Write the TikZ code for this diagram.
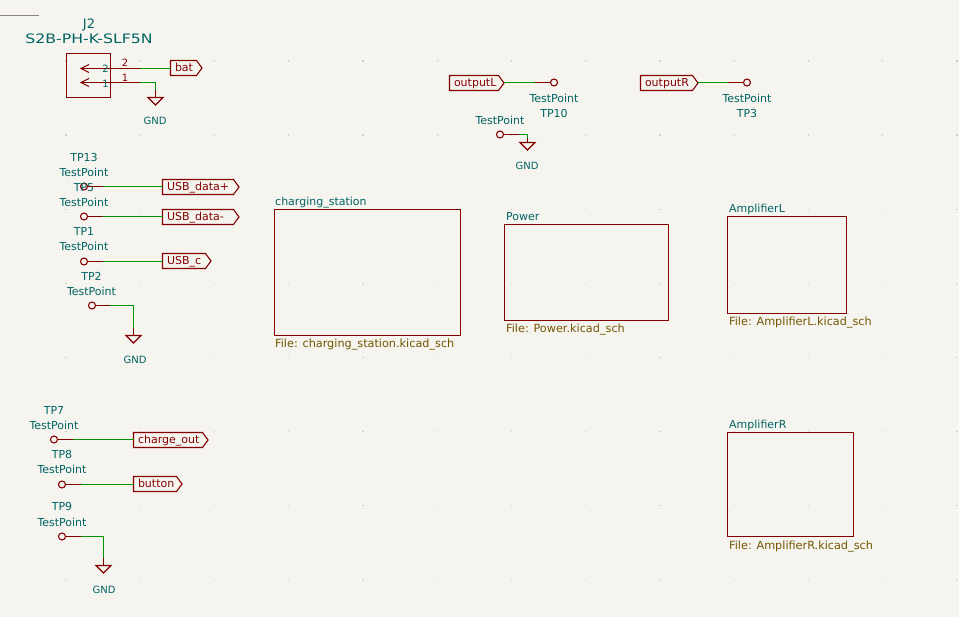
\documentclass[tikz,border=0pt]{standalone}
\usepackage{fontspec}
\usepackage{graphicx}
\setmainfont{DejaVu Sans}
\definecolor{bgc}{HTML}{F5F4EF}
\definecolor{symred}{HTML}{840000}
\definecolor{wirec}{HTML}{009600}
\definecolor{teal}{HTML}{006464}
\definecolor{filec}{HTML}{725600}
\definecolor{gridc}{HTML}{CFCDC7}
\definecolor{topl}{HTML}{8A8580}
\tikzset{
  lbl/.style={inner sep=0pt,text=teal,font=\fontsize{11}{12}\selectfont,text height=10pt,text depth=0pt},
  sheetname/.style={lbl,anchor=west},
  filename/.style={lbl,anchor=west,text=filec,font=\fontsize{11.25}{12}\selectfont},
  redtxt/.style={lbl,text=symred,font=\fontsize{10}{11}\selectfont},
  pintxt/.style={lbl,font=\fontsize{10}{11}\selectfont},
  wire/.style={draw=wirec,line width=1.1pt},
  red/.style={draw=symred,line width=1.1pt},
  tpoint/.style={circle,draw=symred,line width=1.1pt,minimum size=7pt,inner sep=0pt,outer sep=0pt},
  sheet/.style={rectangle,draw=symred,line width=1.1pt,inner sep=0pt,outer sep=0pt,anchor=north west},
  hlab/.style={rectangle,anchor=west,inner xsep=4.5pt,inner ysep=0pt,outer sep=0pt,minimum height=15pt,text=symred,align=left,font=\fontsize{11}{12}\selectfont,text height=8pt,text depth=0pt},
}
% \hlabel{name}{x}{y}{rect width}{text}
\newcommand{\hlabel}[5]{%
  \node[hlab,text width=#4pt-9pt] (#1) at (#2,#3) {#5};
  \draw[red,line join=miter] (#1.north west) -- (#1.north east) -- ([xshift=5.5pt]#1.east) -- (#1.south east) -- (#1.south west) -- cycle;
  \coordinate (#1tip) at ([xshift=5.5pt]#1.east);
}
% \gndsym{name}{x}{y of top bar}
\newcommand{\gndsym}[3]{%
  \coordinate (#1) at (#2,#3);
  \draw[red,line join=miter] ([xshift=-7.5pt]#1) -- ([xshift=7.5pt]#1) -- ([yshift=-7.5pt]#1) -- cycle;
}
\begin{document}
\begin{tikzpicture}[x=1pt,y=-1pt]
\useasboundingbox[fill=bgc] (0,0) rectangle (959,617);
% grid
\foreach \i in {0,...,12}{\foreach \j in {0,...,7}{
  \fill[gridc] ({66+74.25*\i-0.6},{61+74.1*\j-0.6}) rectangle ++(1.2,1.2);
}}
\coordinate (ta) at (0,15.5); \coordinate (tb) at (39,15.5);
\draw[topl,line width=1pt] (ta) -- (tb);
% J2
\node[lbl,font=\fontsize{13}{14}\selectfont,text height=11pt] (j2ref) at (89,23) {J2};
\node[lbl,text height=11pt] (j2val) at (89,38) {\scalebox{1.21}[1]{\fontsize{13}{14}\selectfont S2B-PH-K-SLF5N}};
\node[rectangle,draw=symred,line width=1.1pt,inner sep=0pt,outer sep=0pt,minimum width=44pt,minimum height=44pt] (j2) at (88.5,75.5) {};
\coordinate (p2) at (81,68.5); \coordinate (p1) at (81,82.5);
\coordinate (p2e) at (140,68.5); \coordinate (p1e) at (140,82.5);
\draw[red] (p2) -- (p2e); \draw[red] (p1) -- (p1e);
\draw[red] ([xshift=8pt,yshift=-4pt]p2) -- (p2) -- ([xshift=8pt,yshift=4pt]p2);
\draw[red] ([xshift=8pt,yshift=-4pt]p1) -- (p1) -- ([xshift=8pt,yshift=4pt]p1);
\node[pintxt] (n2) at (105.5,68) {2};
\node[pintxt] (n1) at (105.5,83) {1};
\node[redtxt] (r2) at (125,61.5) {2};
\node[redtxt] (r1) at (125,76.5) {1};
\hlabel{bat}{170.5}{68}{26}{bat}
\draw[wire] (p2e) -- (p2e -| bat.west);
\gndsym{g1}{155.5}{97.5}
\coordinate (g1b) at (155.5,90);
\draw[wire] (p1e) -| (g1b);
\draw[red] (g1b) -- (g1);
\node[lbl,font=\fontsize{10}{11}\selectfont] (g1t) at (155,120) {GND};
% USB test points
\node[lbl] (tp13r) at (84,157) {TP13};
\node[lbl] (tp13v) at (84,172) {TestPoint};
\node[tpoint] (tp13) at (84,186.5) {};
\node[lbl] (tp5r) at (84,187) {TP5};
\hlabel{usbp}{162.5}{187}{71}{USB\_data+}
\coordinate (a1) at (103,186.5);
\draw[red] (tp13.east) -- (a1); \draw[wire] (a1) -- (a1 -| usbp.west);
\node[lbl] (tp5v) at (84,202) {TestPoint};
\node[tpoint] (tp5) at (84,216.5) {};
\hlabel{usbm}{162.5}{217}{71}{USB\_data-}
\coordinate (a2) at (103,216.5);
\draw[red] (tp5.east) -- (a2); \draw[wire] (a2) -- (a2 -| usbm.west);
\node[lbl] (tp1r) at (84,231) {TP1};
\node[lbl] (tp1v) at (84,246) {TestPoint};
\node[tpoint] (tp1) at (84,261.5) {};
\hlabel{usbc}{162.5}{261}{43}{USB\_c}
\coordinate (a3) at (103,261.5);
\draw[red] (tp1.east) -- (a3); \draw[wire] (a3) -- (a3 -| usbc.west);
\node[lbl] (tp2r) at (91.5,276) {TP2};
\node[lbl] (tp2v) at (91.5,291) {TestPoint};
\node[tpoint] (tp2) at (92,305.5) {};
\coordinate (a4) at (110,305.5); \coordinate (a4b) at (133.5,328.5);
\gndsym{g2}{133.5}{335.5}
\draw[red] (tp2.east) -- (a4); \draw[wire] (a4) -| (a4b); \draw[red] (a4b) -- (g2);
\node[lbl,font=\fontsize{10}{11}\selectfont] (g2t) at (135,359) {GND};
% charge test points
\node[lbl] (tp7r) at (54,410) {TP7};
\node[lbl] (tp7v) at (54,425) {TestPoint};
\node[tpoint] (tp7) at (54,439.5) {};
\hlabel{chg}{133.5}{440}{69}{charge\_out}
\coordinate (a5) at (73,439.5);
\draw[red] (tp7.east) -- (a5); \draw[wire] (a5) -- (a5 -| chg.west);
\node[lbl] (tp8r) at (62,454) {TP8};
\node[lbl] (tp8v) at (62,469) {TestPoint};
\node[tpoint] (tp8) at (62,484.5) {};
\hlabel{btn}{133.5}{484}{43}{button}
\coordinate (a6) at (81,484.5);
\draw[red] (tp8.east) -- (a6); \draw[wire] (a6) -- (a6 -| btn.west);
\node[lbl] (tp9r) at (62,506) {TP9};
\node[lbl] (tp9v) at (62,521) {TestPoint};
\node[tpoint] (tp9) at (62,536.5) {};
\coordinate (a7) at (81,536.5); \coordinate (a7b) at (103.5,558);
\gndsym{g3}{103.5}{565.5}
\draw[red] (tp9.east) -- (a7); \draw[wire] (a7) -| (a7b); \draw[red] (a7b) -- (g3);
\node[lbl,font=\fontsize{10}{11}\selectfont] (g3t) at (104,588) {GND};
% outputs
\hlabel{outl}{449.5}{83}{49}{outputL}
\node[tpoint] (tp10) at (554,82.5) {};
\coordinate (b1) at (535,82.5);
\draw[wire] (b1 -| outltip) -- (b1); \draw[red] (b1) -- (tp10.west);
\node[lbl] (tp10v) at (554,98) {TestPoint};
\node[lbl] (tp10r) at (554,113) {TP10};
\hlabel{outr}{640.5}{83}{52}{outputR}
\node[tpoint] (tp3) at (747,82.5) {};
\coordinate (b2) at (728,82.5);
\draw[wire] (b2 -| outrtip) -- (b2); \draw[red] (b2) -- (tp3.west);
\node[lbl] (tp3v) at (747,98) {TestPoint};
\node[lbl] (tp3r) at (747,113) {TP3};
\node[lbl] (tpxv) at (500,120) {TestPoint};
\node[tpoint] (tpx) at (500,134.5) {};
\coordinate (b3) at (519,134.5); \coordinate (b3b) at (527.5,138);
\gndsym{g4}{527.5}{142.5}
\draw[red] (tpx.east) -- (b3); \draw[wire] (b3) -| (b3b); \draw[red] (b3b) -- (g4);
\node[lbl,font=\fontsize{10}{11}\selectfont] (g4t) at (527,165) {GND};
% sheets
\node[sheet,minimum width=186pt,minimum height=126pt] (s1) at (274.5,209.5) {};
\node[sheetname] (s1n) at (275,201) {charging\_station};
\node[filename] (s1f) at (275,343) {File: charging\_station.kicad\_sch};
\node[sheet,minimum width=164pt,minimum height=96pt] (s2) at (504.5,224.5) {};
\node[sheetname] (s2n) at (506,216) {Power};
\node[filename] (s2f) at (506,328) {File: Power.kicad\_sch};
\node[sheet,minimum width=119pt,minimum height=97pt] (s3) at (727.5,216.5) {};
\node[sheetname] (s3n) at (729,208) {AmplifierL};
\node[filename] (s3f) at (729,321) {File: AmplifierL.kicad\_sch};
\node[sheet,minimum width=126pt,minimum height=104pt] (s4) at (727.5,432.5) {};
\node[sheetname] (s4n) at (729,424) {AmplifierR};
\node[filename] (s4f) at (729,544) {File: AmplifierR.kicad\_sch};
\end{tikzpicture}
\end{document}
